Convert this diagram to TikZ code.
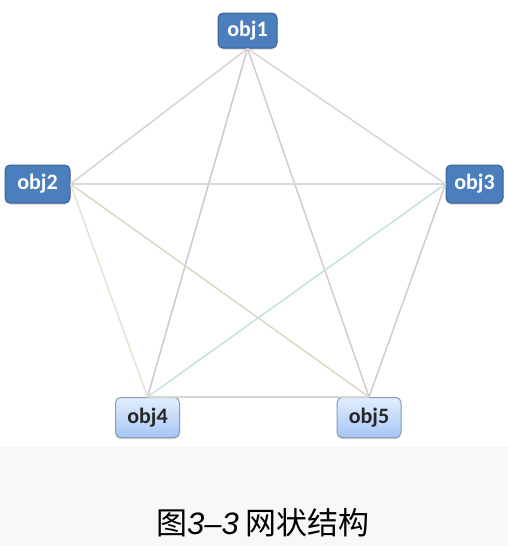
\documentclass[tikz,border=0pt]{standalone}
\usepackage{fontspec}
\setmainfont{Carlito}
\newfontfamily\cjk{Noto Sans CJK SC}
\newfontfamily\capnum{Liberation Sans}
\usetikzlibrary{shadows}

\definecolor{azulescuro}{HTML}{4A7EBD}
\definecolor{azulborda}{HTML}{3A6496}
\definecolor{azulclaro}{HTML}{E2EDFC}
\definecolor{azulmedio}{HTML}{A6C6F5}
\definecolor{bordaclara}{HTML}{8A9BB5}
\definecolor{fundo}{HTML}{F7F8FA}

\tikzset{
  objbox/.style={rounded corners=5pt, line width=1pt, inner sep=0pt,
    font=\bfseries\fontsize{22}{22}\selectfont,
    drop shadow={shadow xshift=0pt, shadow yshift=-1.5pt, opacity=0.35}},
  objescuro/.style={objbox, draw=azulborda, fill=azulescuro, text=white},
  objclaro/.style={objbox, draw=bordaclara, top color=azulclaro, bottom color=azulmedio, text=black!85},
  aresta/.style={line width=1.5pt}
}

\begin{document}
\begin{tikzpicture}[x=1pt,y=-1pt]
            % Fundo
            \fill[white] (0,0) rectangle (508,447);
            \fill[fundo] (0,447) rectangle (508,546);
            \useasboundingbox (0,0) rectangle (508,546);

            % Objetos
            \node[objescuro, minimum width=59pt, minimum height=35pt] (obj1) at (247.5,30.5) {obj1};
            \node[objescuro, minimum width=65pt, minimum height=38pt] (obj2) at (37.5,184) {obj2};
            \node[objescuro, minimum width=57pt, minimum height=38pt] (obj3) at (474.5,184) {obj3};
            \node[objclaro, minimum width=64pt, minimum height=40pt] (obj4) at (147.5,417.5) {obj4};
            \node[objclaro, minimum width=64pt, minimum height=40pt] (obj5) at (369,417.5) {obj5};

            % Ligações
            \draw[aresta, color={rgb,255:red,222;green,208;blue,212}] (obj1.south) -- (obj2.east);
            \draw[aresta, color={rgb,255:red,224;green,210;blue,213}] (obj1.south) -- (obj3.west);
            \draw[aresta, color={rgb,255:red,210;green,198;blue,210}] (obj1.south) -- (obj4.north);
            \draw[aresta, color={rgb,255:red,218;green,202;blue,208}] (obj1.south) -- (obj5.north);
            \draw[aresta, color={rgb,255:red,216;green,216;blue,216}] (obj2.east) -- (obj3.west);
            \draw[aresta, color={rgb,255:red,226;green,229;blue,208}] (obj2.east) -- (obj4.north);
            \draw[aresta, color={rgb,255:red,220;green,216;blue,194}] (obj2.east) -- (obj5.north);
            \draw[aresta, color={rgb,255:red,194;green,226;blue,221}] (obj3.west) -- (obj4.north);
            \draw[aresta, color={rgb,255:red,212;green,202;blue,212}] (obj3.west) -- (obj5.north);
            \draw[aresta, color={rgb,255:red,214;green,214;blue,214}] (obj4.north) -- (obj5.north);

            % Legenda
            \node[font=\fontsize{31}{31}\selectfont] (legenda) at (263,523) {\cjk 图{\capnum\itshape 3–3} 网状结构};
        \end{tikzpicture}
\end{document}
